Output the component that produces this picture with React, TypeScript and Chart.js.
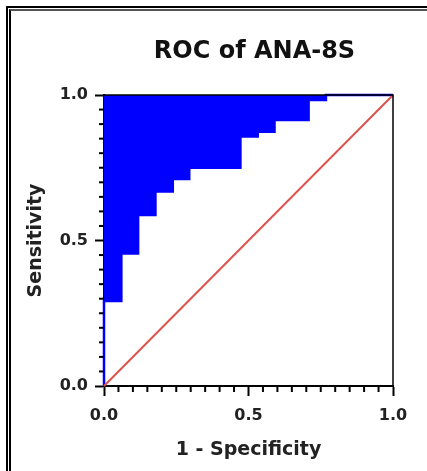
import React, { useEffect, useRef } from "react";
import { Chart, registerables } from "chart.js";

Chart.register(...registerables);

// ---- data ----
const TITLE = "ROC of ANA-8S";
const X_TITLE = "1 - Specificity";
const Y_TITLE = "Sensitivity";
// ROC operating points (1 - specificity, sensitivity)
const FPR = [0, 0, 0.06, 0.118, 0.178, 0.238, 0.295, 0.472, 0.532, 0.59, 0.708, 0.768, 1];
const TPR = [0, 0.292, 0.455, 0.588, 0.668, 0.711, 0.75, 0.857, 0.874, 0.914, 0.983, 1, 1];
// reference (chance) line
const REF_X = [0, 1];
const REF_Y = [0, 1];
// axes
const AXIS_MIN = 0;
const AXIS_MAX = 1;
const MAJOR_STEP = 0.5;
const MINOR_STEP = 0.05;

const FONT = '"DejaVu Sans", "Liberation Sans", Arial, sans-serif';
const TEXT = "#222222";

const extrasPlugin = {
  id: "extras",
  afterDraw(chart: any) {
    const { ctx, chartArea: a, scales } = chart;
    const xs = scales.x;
    const ys = scales.y;
    ctx.save();
    // top & right frame lines
    ctx.strokeStyle = "#000";
    ctx.lineWidth = 1.5;
    ctx.beginPath();
    ctx.moveTo(a.left, a.top);
    ctx.lineTo(a.right, a.top);
    ctx.lineTo(a.right, a.bottom);
    ctx.stroke();
    // minor ticks
    ctx.lineWidth = 2;
    const n = Math.round((AXIS_MAX - AXIS_MIN) / MINOR_STEP);
    for (let i = 0; i <= n; i++) {
      const v = AXIS_MIN + i * MINOR_STEP;
      const isMajor = Math.abs(v / MAJOR_STEP - Math.round(v / MAJOR_STEP)) < 1e-6;
      if (isMajor) continue;
      const px = xs.getPixelForValue(v);
      ctx.beginPath();
      ctx.moveTo(px, a.bottom);
      ctx.lineTo(px, a.bottom + 6);
      ctx.stroke();
      const py = ys.getPixelForValue(v);
      ctx.beginPath();
      ctx.moveTo(a.left, py);
      ctx.lineTo(a.left - 5, py);
      ctx.stroke();
    }
    // title
    ctx.fillStyle = "#111";
    ctx.font = `bold 24px ${FONT}`;
    ctx.textAlign = "center";
    ctx.textBaseline = "alphabetic";
    ctx.fillText(TITLE, (a.left + a.right) / 2 + 6, 58);
    ctx.restore();
  },
};

export default function App() {
  const ref = useRef<HTMLCanvasElement | null>(null);

  useEffect(() => {
    if (!ref.current) return;
    const roc = FPR.map((x, i) => ({ x, y: TPR[i] }));
    const ref45 = REF_X.map((x, i) => ({ x, y: REF_Y[i] }));
    const tickFmt = (v: any) => Number(v).toFixed(1);
    const chart = new Chart(ref.current, {
      type: "scatter",
      data: {
        datasets: [
          {
            label: "Reference",
            data: ref45,
            showLine: true,
            borderColor: "rgb(222,82,78)",
            borderWidth: 2,
            pointRadius: 0,
            fill: false,
            clip: false,
            order: 0,
          } as any,
          {
            label: "ROC",
            data: roc,
            showLine: true,
            stepped: "before",
            borderColor: "#0000FF",
            backgroundColor: "#0000FF",
            borderWidth: 2.5,
            pointRadius: 0,
            fill: "end",
            clip: false,
            order: 1,
          } as any,
        ],
      },
      options: {
        animation: false,
        responsive: false,
        devicePixelRatio: 1,
        layout: { padding: { top: 95, left: 0, right: 34, bottom: 0 } },
        plugins: {
          legend: { display: false },
          tooltip: { enabled: false },
          title: { display: false },
        },
        scales: {
          x: {
            type: "linear",
            min: AXIS_MIN,
            max: AXIS_MAX,
            afterFit: (s: any) => {
              s.height = 85;
            },
            border: { display: true, color: "#000", width: 2, z: -1 },
            grid: {
              drawOnChartArea: false,
              drawTicks: true,
              tickLength: 10,
              tickColor: "#000",
              tickWidth: 2,
            },
            ticks: {
              stepSize: MAJOR_STEP,
              padding: 10,
              color: TEXT,
              font: { family: FONT, size: 16, weight: "bold" },
              callback: tickFmt,
              maxRotation: 0,
            },
            title: {
              display: true,
              text: X_TITLE,
              color: TEXT,
              font: { family: FONT, size: 19, weight: "bold" },
              padding: { top: 0, bottom: 10 },
            },
          },
          y: {
            type: "linear",
            min: AXIS_MIN,
            max: AXIS_MAX,
            afterFit: (s: any) => {
              s.width = 104;
            },
            border: { display: true, color: "#000", width: 2, z: -1 },
            grid: {
              drawOnChartArea: false,
              drawTicks: true,
              tickLength: 9,
              tickColor: "#000",
              tickWidth: 2,
            },
            ticks: {
              stepSize: MAJOR_STEP,
              padding: 7,
              color: TEXT,
              font: { family: FONT, size: 16, weight: "bold" },
              callback: tickFmt,
            },
            title: {
              display: true,
              text: Y_TITLE,
              color: TEXT,
              font: { family: FONT, size: 19, weight: "bold" },
              padding: { top: 25, bottom: 0 },
            },
          },
        },
      } as any,
      plugins: [extrasPlugin],
    });
    return () => chart.destroy();
  }, []);

  return (
    <div
      style={{
        position: "fixed",
        left: 0,
        top: 0,
        width: 427,
        height: 471,
        overflow: "hidden",
        background: "#fff",
      }}
    >
      <div
        style={{
          position: "absolute",
          left: 6,
          top: 6,
          width: 600,
          height: 700,
          borderLeft: "2px solid #000",
          borderTop: "2px solid #000",
        }}
      />
      <div
        style={{
          position: "absolute",
          left: 9,
          top: 9,
          width: 600,
          height: 700,
          borderLeft: "2px solid #000",
          borderTop: "2px solid #555",
        }}
      />
      <canvas
        ref={ref}
        width={427}
        height={471}
        style={{ position: "absolute", left: 0, top: 0, width: 427, height: 471 }}
      />
    </div>
  );
}
